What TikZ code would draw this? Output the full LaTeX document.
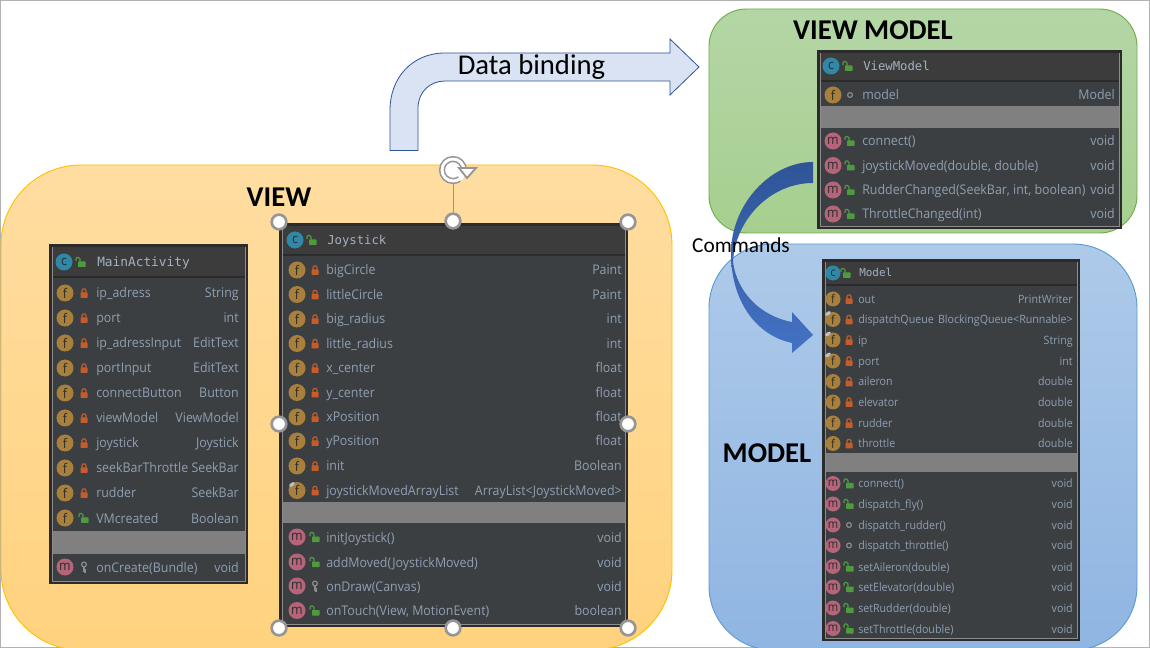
\documentclass[tikz,border=0pt]{standalone}
\usepackage{fontspec}
\setmainfont{Carlito}
\newfontfamily\umlfont[FakeStretch=0.93]{Open Sans}
\newfontfamily\umlmono{DejaVu Sans Mono}
\usetikzlibrary{calc}

\definecolor{classdark}{HTML}{2B2B2B}
\definecolor{classbody}{HTML}{3C3F41}
\definecolor{classhead}{HTML}{3C3C3C}
\definecolor{classline}{HTML}{8C8C8C}
\definecolor{classband}{HTML}{808080}
\definecolor{classtext}{HTML}{8F9FB3}
\definecolor{classtitle}{HTML}{A3B1C2}
\definecolor{lockred}{HTML}{C75C2B}
\definecolor{lockgreen}{HTML}{4F9A3F}
\definecolor{iconf}{HTML}{A8803C}
\definecolor{iconm}{HTML}{B5647A}
\definecolor{iconc}{HTML}{2F88A8}
\definecolor{viewtop}{HTML}{FFDDA1}
\definecolor{viewbot}{HTML}{FFD27E}
\definecolor{viewedge}{HTML}{FFC000}
\definecolor{vmtop}{HTML}{B4D6A6}
\definecolor{vmbot}{HTML}{A6CF8F}
\definecolor{vmedge}{HTML}{70AD47}
\definecolor{modeltop}{HTML}{AECAE9}
\definecolor{modelbot}{HTML}{8FB5E2}
\definecolor{modeledge}{HTML}{5B9BD5}
\definecolor{bindfill}{HTML}{D9E3F3}
\definecolor{arrowdark}{HTML}{2F5597}
\definecolor{arrowlight}{HTML}{4472C4}
\definecolor{handlegray}{HTML}{969696}
\definecolor{handleline}{HTML}{B0926A}

\tikzset{
  zone/.style={line width=0.7pt,rounded corners=#1},
  heading/.style={font=\fontsize{21.5}{21.5}\selectfont\bfseries,text=black,inner sep=0pt},
  caption/.style={font=\fontsize{#1}{#1}\selectfont,text=black,inner sep=0pt},
  fieldicon/.style={circle,fill=iconf,text=classdark,inner sep=0pt,minimum size=\iconsize*0.75pt,
    font=\umlfont\fontsize{\iconfont}{\iconfont}\selectfont,node contents=f},
  methodicon/.style={circle,fill=iconm,text=classdark,inner sep=0pt,minimum size=\iconsize*0.75pt,
    font=\umlfont\fontsize{\iconfont}{\iconfont}\selectfont,node contents=m},
  classicon/.style={circle,fill=iconc,text=classdark,inner sep=0pt,minimum size=\iconsize*0.75pt,
    font=\umlfont\fontsize{\iconfont}{\iconfont}\selectfont,node contents=c},
  rowname/.style={anchor=base west,inner sep=0pt,text=classtext,font=\umlfont\fontsize{\rowfont}{\rowfont}\selectfont},
  rowtype/.style={anchor=base east,inner sep=0pt,text=classtext,font=\umlfont\fontsize{\rowfont}{\rowfont}\selectfont},
  rowtitle/.style={anchor=base west,inner sep=0pt,text=classtitle,font=\umlmono\fontsize{\titlefont}{\titlefont}\selectfont},
  handle/.style={circle,draw=handlegray,line width=2pt,fill=white,inner sep=0pt,minimum size=11pt},
}

% lock marks, drawn at the origin of a row
\newcommand{\lockpriv}{%
  \fill[lockred,rounded corners=0.4pt] (-3.5,-0.5) rectangle (3.5,5);
  \draw[lockred,line width=0.9pt] (-2,0) -- (-2,-2.5) -- (-1,-4) -- (1,-4) -- (2,-2.5) -- (2,0);}
\newcommand{\lockpub}{%
  \fill[lockgreen,rounded corners=0.4pt] (-3,-0.5) rectangle (4.5,5);
  \draw[lockgreen,line width=0.9pt] (-1,0) -- (-1,-3) -- (-2.5,-4.5) -- (-4,-4.5) -- (-5,-3) -- (-5,-1);}
\newcommand{\lockpkg}{%
  \draw[classline,line width=0.9pt] (0,0) circle (2.4);}
\newcommand{\lockprot}{%
  \draw[classline,line width=0.9pt] (0,-2.5) circle (2.4);
  \draw[classline,line width=0.9pt] (0,0) -- (0,5) (0,3) -- (2,3) (0,5) -- (2,5);}
\newcommand{\lockpin}{\lockpriv
  \fill[black!25,rotate around={35:(\colicon-\collock-5,-6)}] (\colicon-\collock-5,-6) ellipse (3.2 and 1.8);}

% outer frame, body, header rule and empty band of one class
\newcommand{\classbox}[8]{%
  \fill[classdark] (#2,#3) rectangle (#4,#5);
  \node[inner sep=0pt,minimum size=0pt] (#1) at ($(#2,#3)!0.5!(#4,#5)$) {};
  \filldraw[fill=classbody,draw=classline,line width=0.7pt] (#2+3,#3+3) rectangle (#4-3,#5-3);
  \fill[classhead] (#2+3.5,#3+3.5) rectangle (#4-3.5,#6);
  \draw[classdark,line width=0.8pt] (#2+3.5,#6) -- (#4-3.5,#6);
  \fill[classband] (#2+3.5,#7) rectangle (#4-3.5,#8);
}
\newcommand{\classrow}[7]{%
  \begin{scope}[shift={(0,#2)}]
    \node[name=#1-icon#7,at={(\colicon,0)},#3];
    \begin{scope}[shift={(\collock,0)}] #4 \end{scope}
    \node[rowname] (#1-name#7) at (\colname,\rowdrop) {#5};
    \node[rowtype] (#1-type#7) at (\coltype,\rowdrop) {#6};
  \end{scope}
}
\newcommand{\classtitle}[7]{%
  \node[name=#1-icon,at={(#2,#3)},classicon];
  \begin{scope}[shift={(#2+#7,#3)}] \lockpub \end{scope}
  \node[rowtitle] (#1-title) at (#4,#3+#6) {#5};
}

\begin{document}
\begin{tikzpicture}[x=0.75pt,y=-0.75pt]
    \useasboundingbox (0,0) rectangle (1150,648);
    \fill[white] (0,0) rectangle (1150,648);
    \draw[black!30,line width=0.6pt] (0.5,0.5) rectangle (1149.5,647.5);

    % coloured zones
    \shade[zone=60pt,top color=viewtop,bottom color=viewbot] (1,165) rectangle (672,650);
    \shade[zone=28pt,top color=vmtop,bottom color=vmbot] (709,9) rectangle (1137,233);
    \shade[zone=48pt,top color=modeltop,bottom color=modelbot] (709,244) rectangle (1137,650);
    \draw[zone=60pt,draw=viewedge] (1,165) rectangle (672,650);
    \draw[zone=28pt,draw=vmedge] (709,9) rectangle (1137,233);
    \draw[zone=48pt,draw=modeledge] (709,244) rectangle (1137,650);

    \node[heading] (viewlabel) at (279,197) {VIEW};
    \node[heading] (vmlabel) at (873,30) {VIEW MODEL};
    \node[heading] (modellabel) at (767,453) {MODEL};

    % Data binding arrow
    \filldraw[fill=bindfill,draw=arrowdark,line width=0.6pt] (390,150.5) -- (390,110)
      .. controls (390,78) and (412,53) .. (445,53) -- (670,53) -- (670,39) -- (699,67)
      -- (670,95) -- (670,81) -- (445,81) .. controls (430,81) and (418,92) .. (418,108) -- (418,150.5) -- cycle;
    \node[caption=21.5] (bindlabel) at (531.5,67) {Data binding};

    % MainActivity
    \def\iconsize{17}\def\iconfont{10}\def\rowfont{10}\def\titlefont{9.6}\def\rowdrop{5}
    \def\colicon{65}\def\collock{84}\def\colname{96}\def\coltype{239}
    \classbox{mainactivity}{49}{244}{248}{584}{277}{531}{554}
    \classtitle{mainactivity}{64}{262}{97}{MainActivity}{4.5}{17}
    \foreach \y/\ic/\lk/\nm/\ty [count=\i] in {
      293/fieldicon/\lockpriv/ip\_adress/String,
      318/fieldicon/\lockpriv/port/int,
      343/fieldicon/\lockpriv/ip\_adressInput/EditText,
      368/fieldicon/\lockpriv/portInput/EditText,
      393/fieldicon/\lockpriv/connectButton/Button,
      418/fieldicon/\lockpriv/viewModel/ViewModel,
      443/fieldicon/\lockpriv/joystick/Joystick,
      468/fieldicon/\lockpriv/seekBarThrottle/SeekBar,
      493/fieldicon/\lockpriv/rudder/SeekBar,
      518/fieldicon/\lockpub/VMcreated/Boolean,
      567/methodicon/\lockprot/onCreate(Bundle)/void}
      \classrow{mainactivity}{\y}{\ic}{\lk}{\nm}{\ty}{\i};

    % Joystick
    \def\colicon{297}\def\collock{315}\def\colname{326}\def\coltype{622}
    \def\titlefont{9.2}
    \classbox{joystick}{279}{223}{628}{627}{255}{502}{523}
    \classtitle{joystick}{295}{240}{327}{Joystick}{4.5}{17}
    \foreach \y/\ic/\lk/\nm/\ty [count=\i] in {
      270/fieldicon/\lockpriv/bigCircle/Paint,
      294.5/fieldicon/\lockpriv/littleCircle/Paint,
      319/fieldicon/\lockpriv/big\_radius/int,
      343.5/fieldicon/\lockpriv/little\_radius/int,
      368/fieldicon/\lockpriv/x\_center/float,
      392.5/fieldicon/\lockpriv/y\_center/float,
      417/fieldicon/\lockpriv/xPosition/float,
      441/fieldicon/\lockpriv/yPosition/float,
      466/fieldicon/\lockpriv/init/Boolean,
      490.5/fieldicon/\lockpin/joystickMovedArrayList/ArrayList<JoystickMoved>,
      537/methodicon/\lockpub/initJoystick()/void,
      562/methodicon/\lockpub/addMoved(JoystickMoved)/void,
      586/methodicon/\lockprot/onDraw(Canvas)/void,
      610.5/methodicon/\lockpub/{onTouch(View, MotionEvent)}/boolean}
      \classrow{joystick}{\y}{\ic}{\lk}{\nm}{\ty}{\i};

    % ViewModel
    \def\colicon{833}\def\collock{850}\def\colname{862}\def\coltype{1115}
    \classbox{viewmodel}{817}{50}{1122}{229}{81}{106}{128}
    \classtitle{viewmodel}{831}{66}{863}{ViewModel}{4.5}{17}
    \foreach \y/\ic/\lk/\nm/\ty [count=\i] in {
      95/fieldicon/\lockpkg/model/Model,
      141/methodicon/\lockpub/connect()/void,
      165.5/methodicon/\lockpub/{joystickMoved(double, double)}/void,
      190/methodicon/\lockpub/{RudderChanged(SeekBar, int, boolean)}/void,
      214/methodicon/\lockpub/ThrottleChanged(int)/void}
      \classrow{viewmodel}{\y}{\ic}{\lk}{\nm}{\ty}{\i};

    % Model
    \def\iconsize{15}\def\iconfont{9}\def\rowfont{8.6}\def\titlefont{8.2}\def\rowdrop{4.5}
    \def\colicon{833}\def\collock{849}\def\colname{858}\def\coltype{1073}
    \classbox{model}{822}{259}{1080}{641}{285}{453}{472}
    \classtitle{model}{833}{273}{859}{Model}{4}{13}
    \foreach \y/\ic/\lk/\nm/\ty [count=\i] in {
      299/fieldicon/\lockpriv/out/PrintWriter,
      319.5/fieldicon/\lockpin/dispatchQueue/BlockingQueue<Runnable>,
      340/fieldicon/\lockpin/ip/String,
      361/fieldicon/\lockpin/port/int,
      381.5/fieldicon/\lockpriv/aileron/double,
      402/fieldicon/\lockpriv/elevator/double,
      423/fieldicon/\lockpriv/rudder/double,
      443.5/fieldicon/\lockpriv/throttle/double,
      483.5/methodicon/\lockpub/connect()/void,
      504/methodicon/\lockpub/dispatch\_fly()/void,
      525/methodicon/\lockpkg/dispatch\_rudder()/void,
      545.5/methodicon/\lockpkg/dispatch\_throttle()/void,
      566.5/methodicon/\lockpub/setAileron(double)/void,
      587/methodicon/\lockpub/setElevator(double)/void,
      608/methodicon/\lockpub/setRudder(double)/void,
      628.5/methodicon/\lockpub/setThrottle(double)/void}
      \classrow{model}{\y}{\ic}{\lk}{\nm}{\ty}{\i};

    % Commands arrow
    \shade[top color=arrowdark,bottom color=arrowlight] (813,162)
      .. controls (770,162) and (731,205) .. (731,253)
      .. controls (731,300) and (755,335) .. (792,343) -- (792,353) -- (813,335) -- (792,312) -- (792,322)
      .. controls (760,316) and (737,292) .. (733,262)
      .. controls (735,220) and (770,183) .. (813,183) -- cycle;
    \node[caption=16] (commandslabel) at (741,245) {Commands};

    % selection handles of the Joystick box
    \node[circle,fill=white,inner sep=0pt,minimum size=20pt] (rotatehandle) at (453,170) {};
    \draw[handlegray,line width=4.6pt] (464,170) arc[start angle=0,end angle=305,radius=8.25pt];
    \draw[white,line width=2.2pt] (464,170) arc[start angle=0,end angle=305,radius=8.25pt];
    \filldraw[fill=white,draw=handlegray,line width=1.4pt] (459,168) -- (476,168) -- (467,178) -- cycle;
    \node[handle] (topmid) at (453,221) {};
    \draw[handleline,line width=0.6pt] (rotatehandle) -- (topmid);
    \node[handle] (topleft) at (279,222) {};
    \node[handle] (topright) at (628,222) {};
    \node[handle] (midleft) at (279,424) {};
    \node[handle] (midright) at (628,424) {};
    \node[handle] (botleft) at (279,628) {};
    \node[handle] (botmid) at (453,628) {};
    \node[handle] (botright) at (628,628) {};
\end{tikzpicture}
\end{document}
